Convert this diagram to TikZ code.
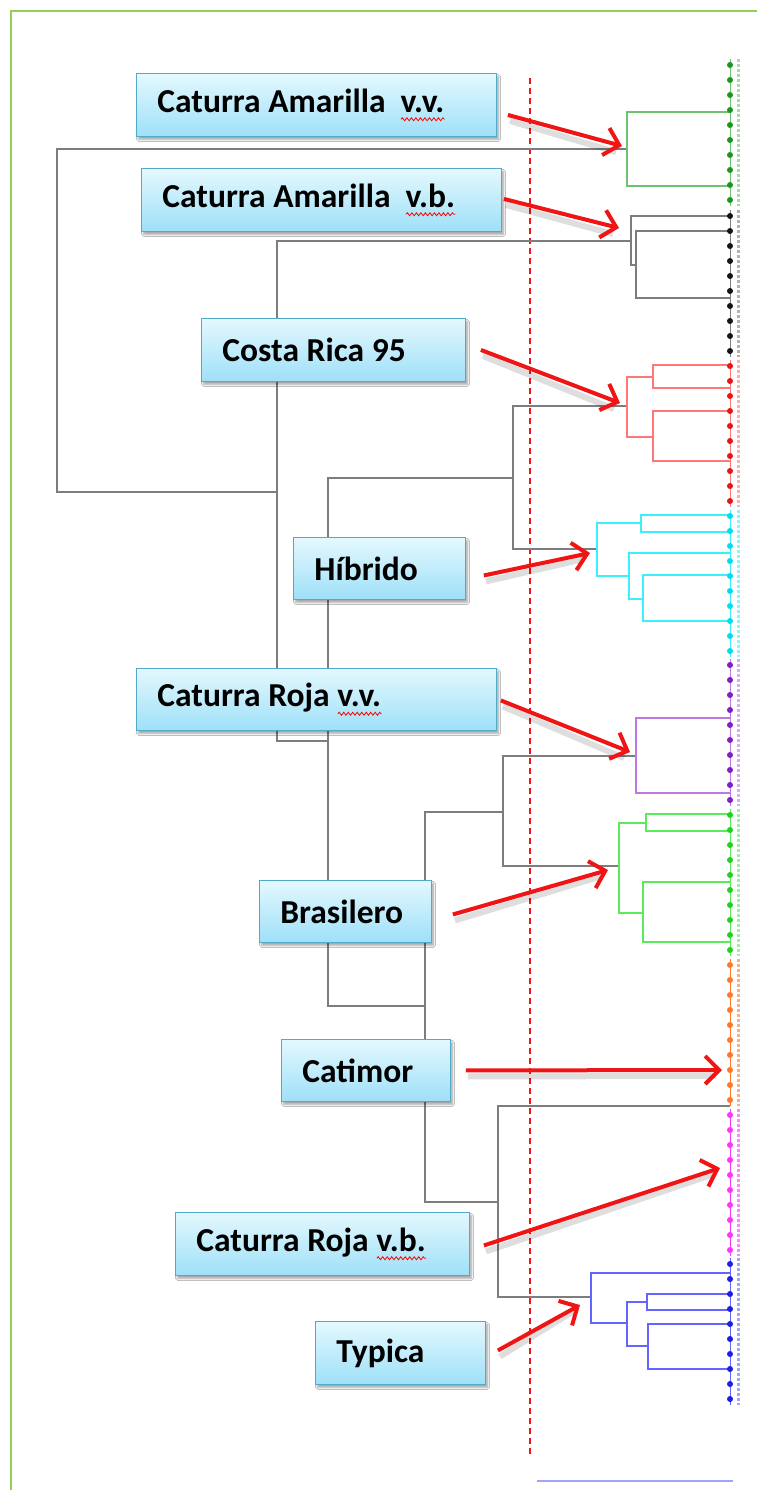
\documentclass[tikz,border=0pt]{standalone}
\usepackage{fontspec}
\setmainfont{Carlito}
\usetikzlibrary{arrows.meta,shadows.blur,decorations.pathmorphing}
\definecolor{frameg}{RGB}{146,208,80}
\definecolor{boxtop}{RGB}{228,248,254}
\definecolor{boxbot}{RGB}{158,224,248}
\definecolor{boxline}{RGB}{80,170,200}
\definecolor{treegray}{RGB}{125,125,125}
\definecolor{cgreenl}{RGB}{110,195,110}
\definecolor{cgreend}{RGB}{30,150,30}
\definecolor{cblack}{RGB}{20,20,20}
\definecolor{credl}{RGB}{255,120,120}
\definecolor{credd}{RGB}{235,20,20}
\definecolor{ccyanl}{RGB}{60,240,250}
\definecolor{ccyand}{RGB}{0,220,240}
\definecolor{cpurl}{RGB}{190,120,230}
\definecolor{cpurd}{RGB}{130,30,200}
\definecolor{cgr2l}{RGB}{90,235,90}
\definecolor{cgr2d}{RGB}{30,210,30}
\definecolor{corange}{RGB}{255,120,40}
\definecolor{cmag}{RGB}{255,50,255}
\definecolor{cbluel}{RGB}{100,100,255}
\definecolor{cblued}{RGB}{30,30,230}
\definecolor{arrred}{RGB}{240,20,20}
\newsavebox{\wavebox}
\newcommand{\redwave}[1]{\sbox{\wavebox}{#1}\usebox{\wavebox}\hspace{-\wd\wavebox}%
  \tikz[baseline=0pt]{\draw[red,line width=0.8pt,decorate,decoration={snake,amplitude=1.5pt,segment length=4.5pt}] (0pt,-7pt) -- (\wd\wavebox,-7pt);}}
\newcommand{\tsp}{\spaceskip=0.23em\relax}
\begin{document}
\begin{tikzpicture}[x=1pt,y=-1pt,
  lbox/.style={draw=boxline,line width=0.9pt,top color=boxtop,bottom color=boxbot,
    blur shadow={shadow xshift=2pt,shadow yshift=-3pt,shadow blur steps=6,shadow opacity=35},
    anchor=north west,inner xsep=21pt,inner ysep=0pt,align=left,
    font=\fontsize{33.5}{38}\selectfont\bfseries},
  tree/.style={draw=treegray,line width=1.6pt},
  clus/.style={line width=1.3pt},
  pointer/.style={draw=arrred,line width=4pt,-{Straight Barb[length=14pt,width=28pt]}},
  pshadow/.style={draw=black,opacity=0.13,line width=6pt}]
\useasboundingbox (0,0) rectangle (757,1490);
\fill[white] (0,0) rectangle (757,1490);
% frame
\draw[frameg,line width=2.5pt] (11,1495) -- (11,11) -- (762,11);
% dashed cut line
\draw[arrred,line width=1.4pt,dash pattern=on 6pt off 4pt] (530,78) -- (530,1455);
% scale bar
\draw[cbluel!60,line width=2pt] (537,1481) -- (733,1481);
% main tree (gray)
\draw[tree] (627,149) -- (57,149) -- (57,492) -- (277,492);
\draw[tree] (631,241) -- (277,241) -- (277,741) -- (328,741);
\draw[tree] (513,478) -- (328,478) -- (328,1006) -- (425,1006);
\draw[tree] (627,406) -- (513,406) -- (513,549) -- (597,549);
\draw[tree] (636,756) -- (503,756) -- (503,866) -- (619,866);
\draw[tree] (503,812) -- (425,812) -- (425,1202) -- (498,1202);
\draw[tree] (730,1106) -- (498,1106) -- (498,1297) -- (591,1297);
% black cluster
\draw[tree,line width=1.4pt] (730,216) -- (631,216) -- (631,265) -- (636,265);
\draw[tree,line width=1.4pt] (730,231) -- (636,231) -- (636,298) -- (730,298);
% green cluster
\draw[clus,cgreenl] (730,112) -- (627,112) -- (627,186) -- (730,186);
% red cluster
\draw[clus,credl] (730,365) -- (653,365) -- (653,388) -- (730,388);
\draw[clus,credl] (730,411) -- (653,411) -- (653,461) -- (730,461);
\draw[clus,credl] (653,377) -- (627,377) -- (627,437) -- (653,437);
% cyan cluster
\draw[clus,ccyanl] (730,515) -- (641,515) -- (641,532) -- (730,532);
\draw[clus,ccyanl] (730,553) -- (629,553) -- (629,599) -- (643,599);
\draw[clus,ccyanl] (730,575) -- (643,575) -- (643,621) -- (730,621);
\draw[clus,ccyanl] (641,523) -- (597,523) -- (597,576) -- (629,576);
% purple cluster
\draw[clus,cpurl] (730,718) -- (636,718) -- (636,793) -- (730,793);
% green 2 cluster
\draw[clus,cgr2l] (730,814) -- (646,814) -- (646,831) -- (730,831);
\draw[clus,cgr2l] (730,882) -- (643,882) -- (643,942) -- (730,942);
\draw[clus,cgr2l] (646,823) -- (619,823) -- (619,913) -- (643,913);
% blue cluster
\draw[clus,cbluel] (730,1273) -- (591,1273) -- (591,1323) -- (627,1323);
\draw[clus,cbluel] (730,1294) -- (647,1294) -- (647,1310) -- (730,1310);
\draw[clus,cbluel] (730,1324) -- (648,1324) -- (648,1369) -- (730,1369);
\draw[clus,cbluel] (647,1302) -- (627,1302) -- (627,1346) -- (648,1346);
% leaves
\foreach \y/\lc/\dc in {65/cgreenl/cgreend,216/gray/cblack,366/credl/credd,516/ccyanl/ccyand,
  665/cpurl/cpurd,815/cgr2l/cgr2d,965/corange/corange,1115/cmag/cmag,1264/cbluel/cblued}{
  \draw[\lc,line width=1pt] (730,\y-6) -- (730,\y+141);
  \draw[\lc!60,line width=3pt,dash pattern=on 3pt off 2pt] (738,\y-6) -- (738,\y+141);
  \foreach \k in {0,...,9}{\fill[\dc] (730,\y+15*\k) circle (3pt);}
}
% boxes
\node[lbox,minimum width=360pt,minimum height=63pt,text width=318pt] (b1) at (136,73) {\tsp Caturra Amarilla\hspace{0.45em}\redwave{v.v.}};
\node[lbox,minimum width=360pt,minimum height=63pt,text width=318pt] (b2) at (141,168) {\tsp Caturra Amarilla\hspace{0.45em}\redwave{v.b.}};
\node[lbox,minimum width=264pt,minimum height=63pt,text width=222pt] (b3) at (201,318) {\tsp Costa Rica 95};
\node[lbox,minimum width=172pt,minimum height=62pt,text width=130pt] (b4) at (293,537) {\tsp Híbrido};
\node[lbox,minimum width=360pt,minimum height=62pt,text width=318pt] (b5) at (136,668) {\tsp Caturra Roja \redwave{v.v.}};
\node[lbox,minimum width=172pt,minimum height=62pt,text width=130pt] (b6) at (259,880) {\tsp Brasilero};
\node[lbox,minimum width=169pt,minimum height=62pt,text width=127pt] (b7) at (281,1039) {\tsp Catimor};
\node[lbox,minimum width=294pt,minimum height=63pt,text width=252pt] (b8) at (175,1212) {\tsp Caturra Roja \redwave{v.b.}};
\node[lbox,minimum width=170pt,minimum height=63pt,text width=128pt] (b9) at (315,1321) {\tsp Typica};
% arrow ends
\coordinate (s1) at ([shift={(11,10)}]b1.east);   \coordinate (t1) at (622,146);
\coordinate (s2) at ([shift={(2,-1)}]b2.east);    \coordinate (t2) at (619,228);
\coordinate (s3) at ([shift={(15,0)}]b3.east);    \coordinate (t3) at (620,403);
\coordinate (s4) at ([shift={(18,7)}]b4.east);    \coordinate (t4) at (590,553);
\coordinate (s5) at ([shift={(4,1)}]b5.east);     \coordinate (t5) at (630,752);
\coordinate (s6) at ([shift={(21,3)}]b6.east);    \coordinate (t6) at (608,870);
\coordinate (s7) at ([shift={(15,0)}]b7.east);    \coordinate (t7) at (722,1070);
\coordinate (s8) at ([shift={(14,1.5)}]b8.east);  \coordinate (t8) at (720,1168);
\coordinate (s9) at ([shift={(12,-2.5)}]b9.east); \coordinate (t9) at (580,1305);
\foreach \i in {1,...,9}{\draw[pshadow] ([shift={(2,6)}]s\i) -- ([shift={(-6,6)}]t\i);}
\foreach \i in {1,...,9}{\draw[pointer] (s\i) -- (t\i);}
\end{tikzpicture}
\end{document}
